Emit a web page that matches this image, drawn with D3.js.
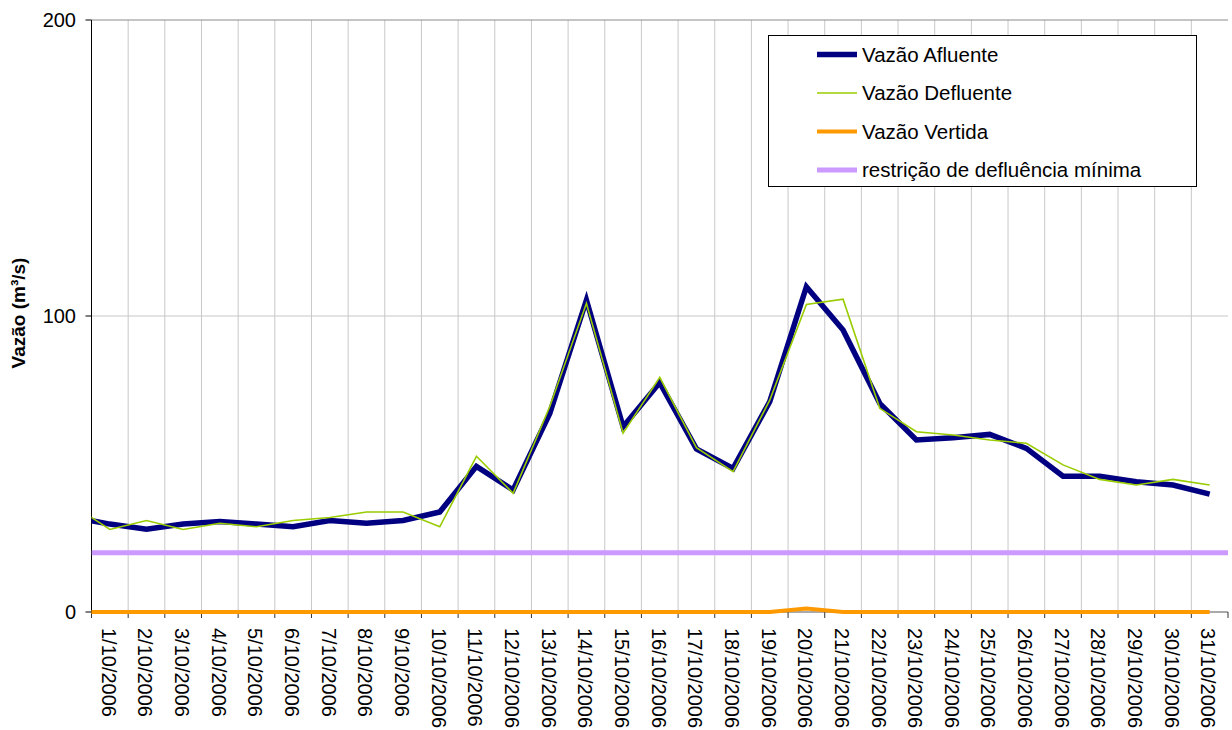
<!DOCTYPE html>
<meta charset="utf-8">
<style>
body { margin: 0; background: #fff; }
svg text { font-family: "Liberation Sans", Arial, sans-serif; fill: #000; }
.grid line { stroke: #c8c8c8; stroke-width: 1; }
</style>
<body>
<svg width="1232" height="730"></svg>
<script src="https://d3js.org/d3.v7.min.js"></script>
<script>
// primeiro valor = 30/9/2006 (fica fora da área do gráfico, só aparece o segmento cortado)
var dias = ["30/9/2006",
  "1/10/2006", "2/10/2006", "3/10/2006", "4/10/2006", "5/10/2006", "6/10/2006", "7/10/2006",
  "8/10/2006", "9/10/2006", "10/10/2006", "11/10/2006", "12/10/2006", "13/10/2006", "14/10/2006",
  "15/10/2006", "16/10/2006", "17/10/2006", "18/10/2006", "19/10/2006", "20/10/2006", "21/10/2006",
  "22/10/2006", "23/10/2006", "24/10/2006", "25/10/2006", "26/10/2006", "27/10/2006", "28/10/2006",
  "29/10/2006", "30/10/2006", "31/10/2006"];

var afluente = [32,
  29.7, 28.0, 29.7, 30.6, 29.7, 28.8, 30.9, 30.0, 30.9, 33.8,
  49.2, 41.2, 67.1, 105.4, 62.6, 77.5, 55.1, 48.5, 71.1, 109.9,
  95.3, 70.5, 58.1, 58.9, 60.0, 55.3, 45.9, 45.9, 44.0, 42.9, 39.8];

var defluente = [36,
  27.9, 30.9, 27.9, 30.0, 28.8, 30.9, 31.9, 33.8, 33.8, 28.8,
  52.6, 40.1, 69.4, 104.3, 60.4, 79.3, 55.5, 47.4, 71.6, 103.9,
  105.7, 68.8, 60.9, 59.8, 58.1, 57.0, 49.7, 44.8, 42.9, 44.8, 42.9];

var vertida = [0,
  0, 0, 0, 0, 0, 0, 0, 0, 0, 0,
  0, 0, 0, 0, 0, 0, 0, 0, 0, 1.2,
  0, 0, 0, 0, 0, 0, 0, 0, 0, 0, 0];

var restricao = 20;
var yTicks = [0, 100, 200];

var series = [
  {nome: "Vazão Afluente", valores: afluente, cor: "#000080", largura: 5.5},
  {nome: "Vazão Defluente", valores: defluente, cor: "#99cc00", largura: 1.6},
  {nome: "Vazão Vertida", valores: vertida, cor: "#ff9900", largura: 4},
  {nome: "restrição de defluência mínima", valores: null, cor: "#cc99ff", largura: 5}
];

var svg = d3.select("svg"),
    margem = {esq: 91.5, dir: 1228, topo: 20, base: 612};

var x = d3.scaleLinear().domain([0.5, dias.length - 0.5]).range([margem.esq, margem.dir]);
var y = d3.scaleLinear().domain([0, 200]).range([margem.base, margem.topo]);

svg.append("defs").append("clipPath").attr("id", "clip")
  .append("rect").attr("x", margem.esq).attr("y", 0)
  .attr("width", margem.dir - margem.esq).attr("height", 730);

// grade vertical
var bordas = d3.range(1.5, dias.length - 0.5, 1);
svg.append("g").attr("class", "grid")
  .selectAll("line").data(bordas).enter().append("line")
    .attr("x1", function(d) { return x(d); }).attr("x2", function(d) { return x(d); })
    .attr("y1", margem.topo).attr("y2", margem.base);

// grade horizontal
svg.append("g").attr("class", "grid")
  .selectAll("line").data(yTicks.slice(1)).enter().append("line")
    .attr("x1", margem.esq).attr("x2", margem.dir)
    .attr("y1", function(d) { return y(d); }).attr("y2", function(d) { return y(d); })
    .style("stroke", function(d) { return d == 200 ? "#8a8a8a" : "#c8c8c8"; });

// eixo y
svg.append("line").attr("x1", margem.esq).attr("x2", margem.esq)
  .attr("y1", margem.topo).attr("y2", margem.base)
  .attr("stroke", "#000");
svg.append("g").selectAll("line").data(yTicks).enter().append("line")
  .attr("x1", margem.esq - 6).attr("x2", margem.esq)
  .attr("y1", function(d) { return y(d); }).attr("y2", function(d) { return y(d); })
  .attr("stroke", "#000");
svg.append("g").selectAll("text").data(yTicks).enter().append("text")
  .attr("x", 76).attr("y", function(d) { return y(d); })
  .attr("dy", "0.36em").attr("text-anchor", "end")
  .style("font-size", "20px")
  .text(function(d) { return d; });

svg.append("text")
  .attr("transform", "translate(25,313) rotate(-90)")
  .attr("text-anchor", "middle")
  .style("font-size", "19px").style("font-weight", "bold")
  .text("Vazão (m³/s)");

// eixo x
svg.append("line").attr("x1", margem.esq).attr("x2", margem.dir)
  .attr("y1", margem.base).attr("y2", margem.base)
  .attr("stroke", "#555");
svg.append("g").selectAll("line").data(d3.range(0.5, dias.length, 1)).enter().append("line")
  .attr("x1", function(d) { return x(d); }).attr("x2", function(d) { return x(d); })
  .attr("y1", margem.base).attr("y2", margem.base + 6)
  .attr("stroke", "#333");
svg.append("g").selectAll("text").data(dias.slice(1)).enter().append("text")
  .attr("transform", function(d, i) { return "translate(" + (x(i + 1) - 1) + "," + (margem.base + 16) + ") rotate(90)"; })
  .attr("dy", "0.36em")
  .style("font-size", "20px")
  .text(function(d) { return d; });

// linhas
var plot = svg.append("g").attr("clip-path", "url(#clip)");
var linha = d3.line()
  .x(function(d, i) { return x(i); })
  .y(function(d) { return y(d); });

plot.append("path")
  .attr("d", "M" + x.range()[0] + "," + y(restricao) + "H" + x.range()[1])
  .attr("fill", "none").attr("stroke", series[3].cor).attr("stroke-width", series[3].largura);

series.slice(0, 3).forEach(function(s) {
  plot.append("path")
    .attr("d", linha(s.valores))
    .attr("fill", "none")
    .attr("stroke", s.cor)
    .attr("stroke-width", s.largura)
    .attr("stroke-linejoin", "miter");
});

// legenda
var leg = svg.append("g");
leg.append("rect").attr("x", 768.5).attr("y", 35.5).attr("width", 428).attr("height", 151)
  .attr("fill", "#fff").attr("stroke", "#000");
var item = leg.selectAll("g.item").data(series).enter().append("g")
  .attr("transform", function(d, i) { return "translate(0," + (54.5 + i * 38.5) + ")"; });
item.append("line").attr("x1", 817).attr("x2", 857)
  .attr("stroke", function(d) { return d.cor; })
  .attr("stroke-width", function(d) { return d.largura; });
item.append("text").attr("x", 862).attr("dy", "0.36em")
  .style("font-size", "20.5px")
  .text(function(d) { return d.nome; });
</script>
</body>
